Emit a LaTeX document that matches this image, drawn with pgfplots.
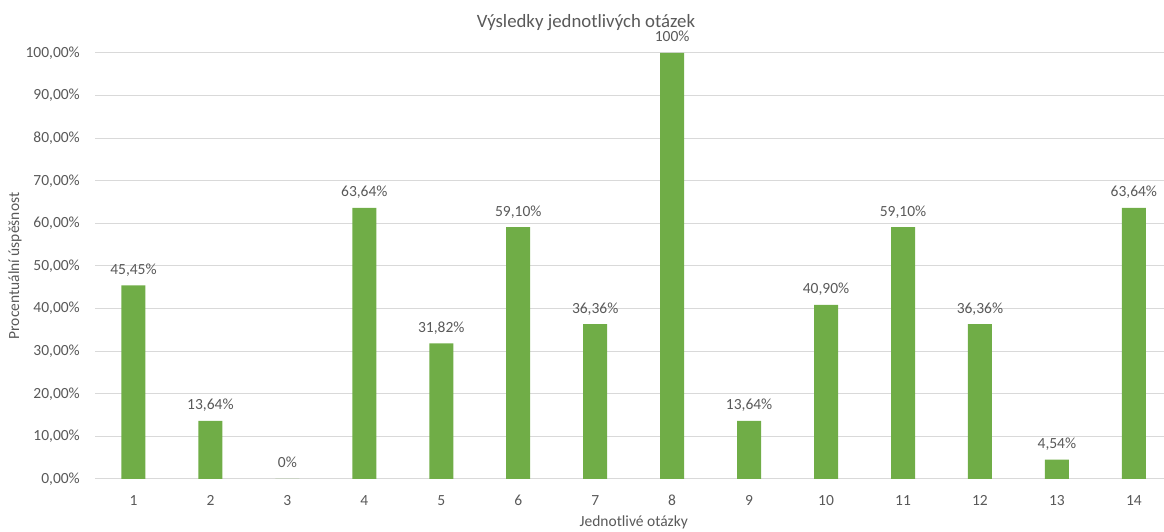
\documentclass[border=0pt]{standalone}
\usepackage{pgfplots}
\pgfplotsset{compat=1.18}
\usepackage{pgfplotstable}
\usepackage{fontspec}
\setmainfont{Carlito}
\definecolor{barg}{HTML}{70AD47}
\definecolor{txt}{HTML}{595959}
\definecolor{gridc}{HTML}{D9D9D9}
\pgfplotstableread{
x y lab
1 45.45 45,45
2 13.64 13,64
3 0 0
4 63.64 63,64
5 31.82 31,82
6 59.10 59,10
7 36.36 36,36
8 100 100
9 13.64 13,64
10 40.90 40,90
11 59.10 59,10
12 36.36 36,36
13 4.54 4,54
14 63.64 63,64
}\data
\begin{document}
\begin{tikzpicture}
\useasboundingbox (0,0) rectangle (1164pt,532pt);
\begin{axis}[
  at={(95pt,53pt)}, anchor=south west, scale only axis,
  width=1069pt, height=426pt,
  xmin=0.5, xmax=14.392, ymin=0, ymax=100,
  clip=false,
  axis lines*=left,
  y axis line style={draw=none},
  x axis line style={draw=gridc, line width=1pt},
  major tick length=0pt,
  xtick={1,...,14},
  ytick={0,10,...,100},
  yticklabels={{0,00\%},{10,00\%},{20,00\%},{30,00\%},{40,00\%},{50,00\%},{60,00\%},{70,00\%},{80,00\%},{90,00\%},{100,00\%}},
  ymajorgrids,
  grid style={draw=gridc, line width=1pt},
  tick label style={font=\fontsize{15.5}{18}\selectfont, text=txt},
  /pgf/number format/assume math mode=true,
  yticklabel style={inner sep=0pt, anchor=east, xshift=-15pt},
  xticklabel style={inner sep=0pt, anchor=north, yshift=-16pt},
  xlabel={Jednotlivé otázky},
  ylabel={Procentuální úspěšnost},
  every axis x label/.style={at={(axis description cs:0.504,-0.101)}, anchor=center, font=\fontsize{15.5}{18}\selectfont, text=txt},
  every axis y label/.style={at={(axis description cs:-0.0748,0.5)}, rotate=90, anchor=center, font=\fontsize{15.5}{18}\selectfont, text=txt},
  point meta=explicit symbolic,
  nodes near coords={\pgfplotspointmeta\%},
  every node near coord/.append style={anchor=base, inner sep=0pt, yshift=11pt, font=\fontsize{15.5}{18}\selectfont, text=txt},
]
\addplot[ybar, bar width=24pt, fill=barg, draw=none] table[x=x, y=y, meta=lab] {\data};
\end{axis}
\node[anchor=base, font=\fontsize{18.8}{22}\selectfont, text=txt] at (586pt,504pt) {Výsledky jednotlivých otázek};
\end{tikzpicture}
\end{document}
